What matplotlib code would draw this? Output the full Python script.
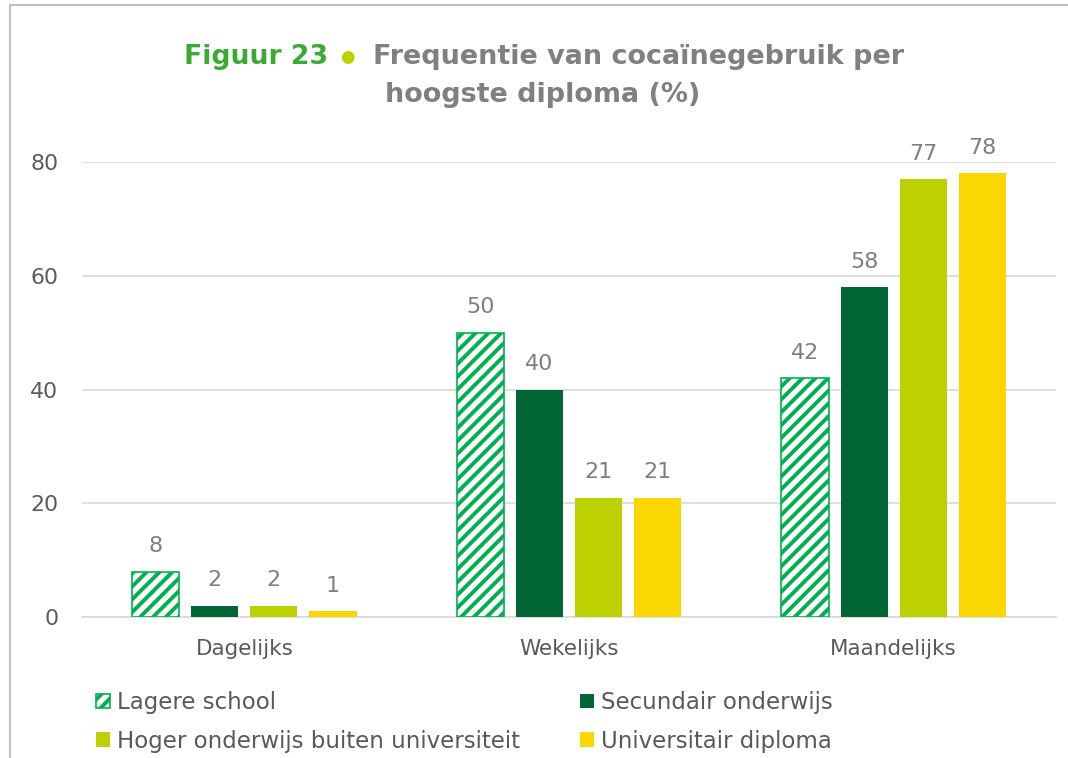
import numpy as np
import matplotlib
matplotlib.use('Agg')
import matplotlib.pyplot as plt
from matplotlib.patches import Rectangle, Patch

# render at dpi 77 so the '//' hatch gets the stripe spacing of the original
DPI = 77
k = 100 / DPI  # sizes below are written as if at 100 dpi

plt.rcParams['font.family'] = ['DejaVu Sans']
plt.rcParams['hatch.linewidth'] = 2.8 * k
plt.rcParams['hatch.color'] = '#00B050'

categories = ['Dagelijks', 'Wekelijks', 'Maandelijks']
series_names = ['Lagere school', 'Secundair onderwijs',
                'Hoger onderwijs buiten universiteit', 'Universitair diploma']
lagere = [8, 50, 42]
secundair = [2, 40, 58]
hoger = [2, 21, 77]
universitair = [1, 21, 78]
yticks = [0, 20, 40, 60, 80]

series = [lagere, secundair, hoger, universitair]
colors = ['white', '#006633', '#BDD000', '#FAD700']

W, H = 1068, 758
fig = plt.figure(figsize=(W / DPI, H / DPI), dpi=DPI)
ax = fig.add_axes([82 / W, 1 - 617 / H, (1056 - 82) / W, (617 - 162) / H])

x = np.arange(len(categories))
step = 0.182
width = 0.145
offsets = (np.arange(4) - 1.5) * step
for i, vals in enumerate(series):
    if i == 0:
        ax.bar(x + offsets[i], vals, width, color='white', edgecolor='#00B050',
               hatch='//', linewidth=1.2 * k, zorder=3)
    else:
        ax.bar(x + offsets[i], vals, width, color=colors[i], linewidth=0, zorder=3)
    for xi, v in zip(x + offsets[i], vals):
        ax.annotate(str(v), (xi, v), xytext=(0, 11 * k), textcoords='offset points',
                    ha='center', va='bottom', fontsize=16 * k, color='#7F7F7F',
                    annotation_clip=False)

ax.set_xlim(-0.5, 2.5)
ax.set_ylim(0, 80)
ax.set_yticks(yticks)
ax.set_xticks(x)
ax.set_xticklabels(categories)
ax.tick_params(axis='y', length=0, pad=17 * k, labelsize=15.8 * k, labelcolor='#595959')
ax.tick_params(axis='x', length=0, pad=16 * k, labelsize=15.5 * k, labelcolor='#595959')
ax.grid(axis='y', color='#D9D9D9', linewidth=1.2 * k, zorder=0)
for s in ['top', 'right', 'left']:
    ax.spines[s].set_visible(False)
ax.spines['bottom'].set_color('#D9D9D9')
ax.spines['bottom'].set_linewidth(1.2 * k)

# title
fig.text(328 / W, 1 - 57 / H, 'Figuur 23', ha='right', va='center',
         fontsize=19.2 * k, fontweight='bold', color='#3AAA35')
fig.text(347 / W, 1 - 57 / H, '\u25CF', ha='center', va='center',
         fontsize=12 * k, color='#BDD000')
fig.text(373 / W, 1 - 57 / H, 'Frequentie van cocaïnegebruik per', ha='left', va='center',
         fontsize=19.4 * k, fontweight='bold', color='#808080')
fig.text(543 / W, 1 - 95 / H, 'hoogste diploma (%)', ha='center', va='center',
         fontsize=19.4 * k, fontweight='bold', color='#808080')

# legend
handles = [Patch(facecolor='white', edgecolor='#00B050', hatch='//', linewidth=1.2 * k),
           Patch(facecolor=colors[2]),
           Patch(facecolor=colors[1]),
           Patch(facecolor=colors[3])]
labels = [series_names[0], series_names[2], series_names[1], series_names[3]]
leg = fig.legend(handles, labels, ncol=2, loc='upper left',
                 bbox_to_anchor=(96 / W, 1 - 691 / H), frameon=False,
                 fontsize=16.5 * k, handlelength=0.6, handleheight=0.6,
                 handletextpad=0.3, columnspacing=2.65, labelspacing=0.68,
                 borderaxespad=0, borderpad=0)
for t in leg.get_texts():
    t.set_color('#595959')

# outer frame
fig.patches.append(Rectangle((10 / W, -0.1), 1.2, 1.1 - 5 / H, transform=fig.transFigure,
                             fill=False, edgecolor='#BFBFBF', linewidth=1.5 * k))

fig.savefig('out.png', dpi=DPI)
